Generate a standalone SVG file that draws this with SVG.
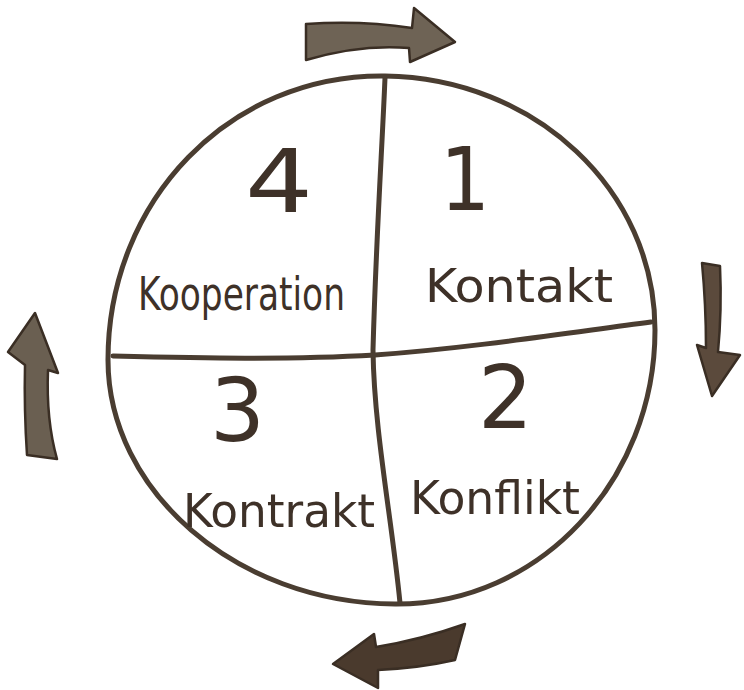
<svg xmlns="http://www.w3.org/2000/svg" width="744" height="690" viewBox="0 0 744 690">
<style>
.ln{fill:none;stroke:#4a3d31;stroke-width:5;stroke-linecap:round;stroke-linejoin:round}
.ar{stroke:#3a2e24;stroke-width:2.5;stroke-linejoin:round}
.num{font-family:"DejaVu Sans Condensed","DejaVu Sans",sans-serif;font-size:88px;fill:#3e3128}
.lbl{font-family:"DejaVu Sans Condensed","DejaVu Sans",sans-serif;font-size:46px;fill:#3e3128}
</style>
<rect width="744" height="690" fill="#ffffff"/>
<g id="connectors">
<path class="ar" fill="#6e6355" d="M306,24 Q360,20 412,28 L414,8 L455,42 L410,62 L409,48 Q360,44 306,60 Z"/>
<path class="ar" fill="#5b4a3c" d="M702,263 L720,266 Q722,310 718,352 L740,355 L712,396 L697,345 L706,348 Q706,305 702,263 Z"/>
<path class="ar" fill="#6a5f51" d="M35,313 L58,373 L48,370 Q46,420 57,459 L27,455 Q24,410 25,365 L8,352 Z"/>
<path class="ar" fill="#4a3a2d" d="M333,664 L374,634 L376,647 Q420,640 465,624 L455,660 Q420,668 378,670 L378,688 Z"/>
</g>
<g id="circle">
<path class="ln" d="M385,76 C535,78 655,190 655,330 C655,480 540,605 395,604 C235,603 108,490 108,360 C108,200 230,74 385,76 Z"/>
<path class="ln" d="M385,78 C382,150 376,240 373,350 C374,430 392,520 400,603"/>
<path class="ln" d="M113,356 C200,358 290,360 375,355 C470,348 560,334 651,322"/>
</g>
<g id="q4"><text class="num" x="245" y="212" font-size="110" textLength="68" lengthAdjust="spacingAndGlyphs">4</text><text class="lbl" x="138" y="310" textLength="207" lengthAdjust="spacingAndGlyphs">Kooperation</text></g>
<g id="q1"><text class="num" x="440" y="210" textLength="50" lengthAdjust="spacingAndGlyphs">1</text><text class="lbl" x="425" y="302" textLength="188" lengthAdjust="spacingAndGlyphs">Kontakt</text></g>
<g id="q3"><text class="num" x="210" y="441" textLength="55" lengthAdjust="spacingAndGlyphs">3</text><text class="lbl" x="183" y="527" textLength="192" lengthAdjust="spacingAndGlyphs">Kontrakt</text></g>
<g id="q2"><text class="num" x="478" y="428" textLength="55" lengthAdjust="spacingAndGlyphs">2</text><text class="lbl" x="410" y="514" textLength="170" lengthAdjust="spacingAndGlyphs">Konflikt</text></g>
</svg>
